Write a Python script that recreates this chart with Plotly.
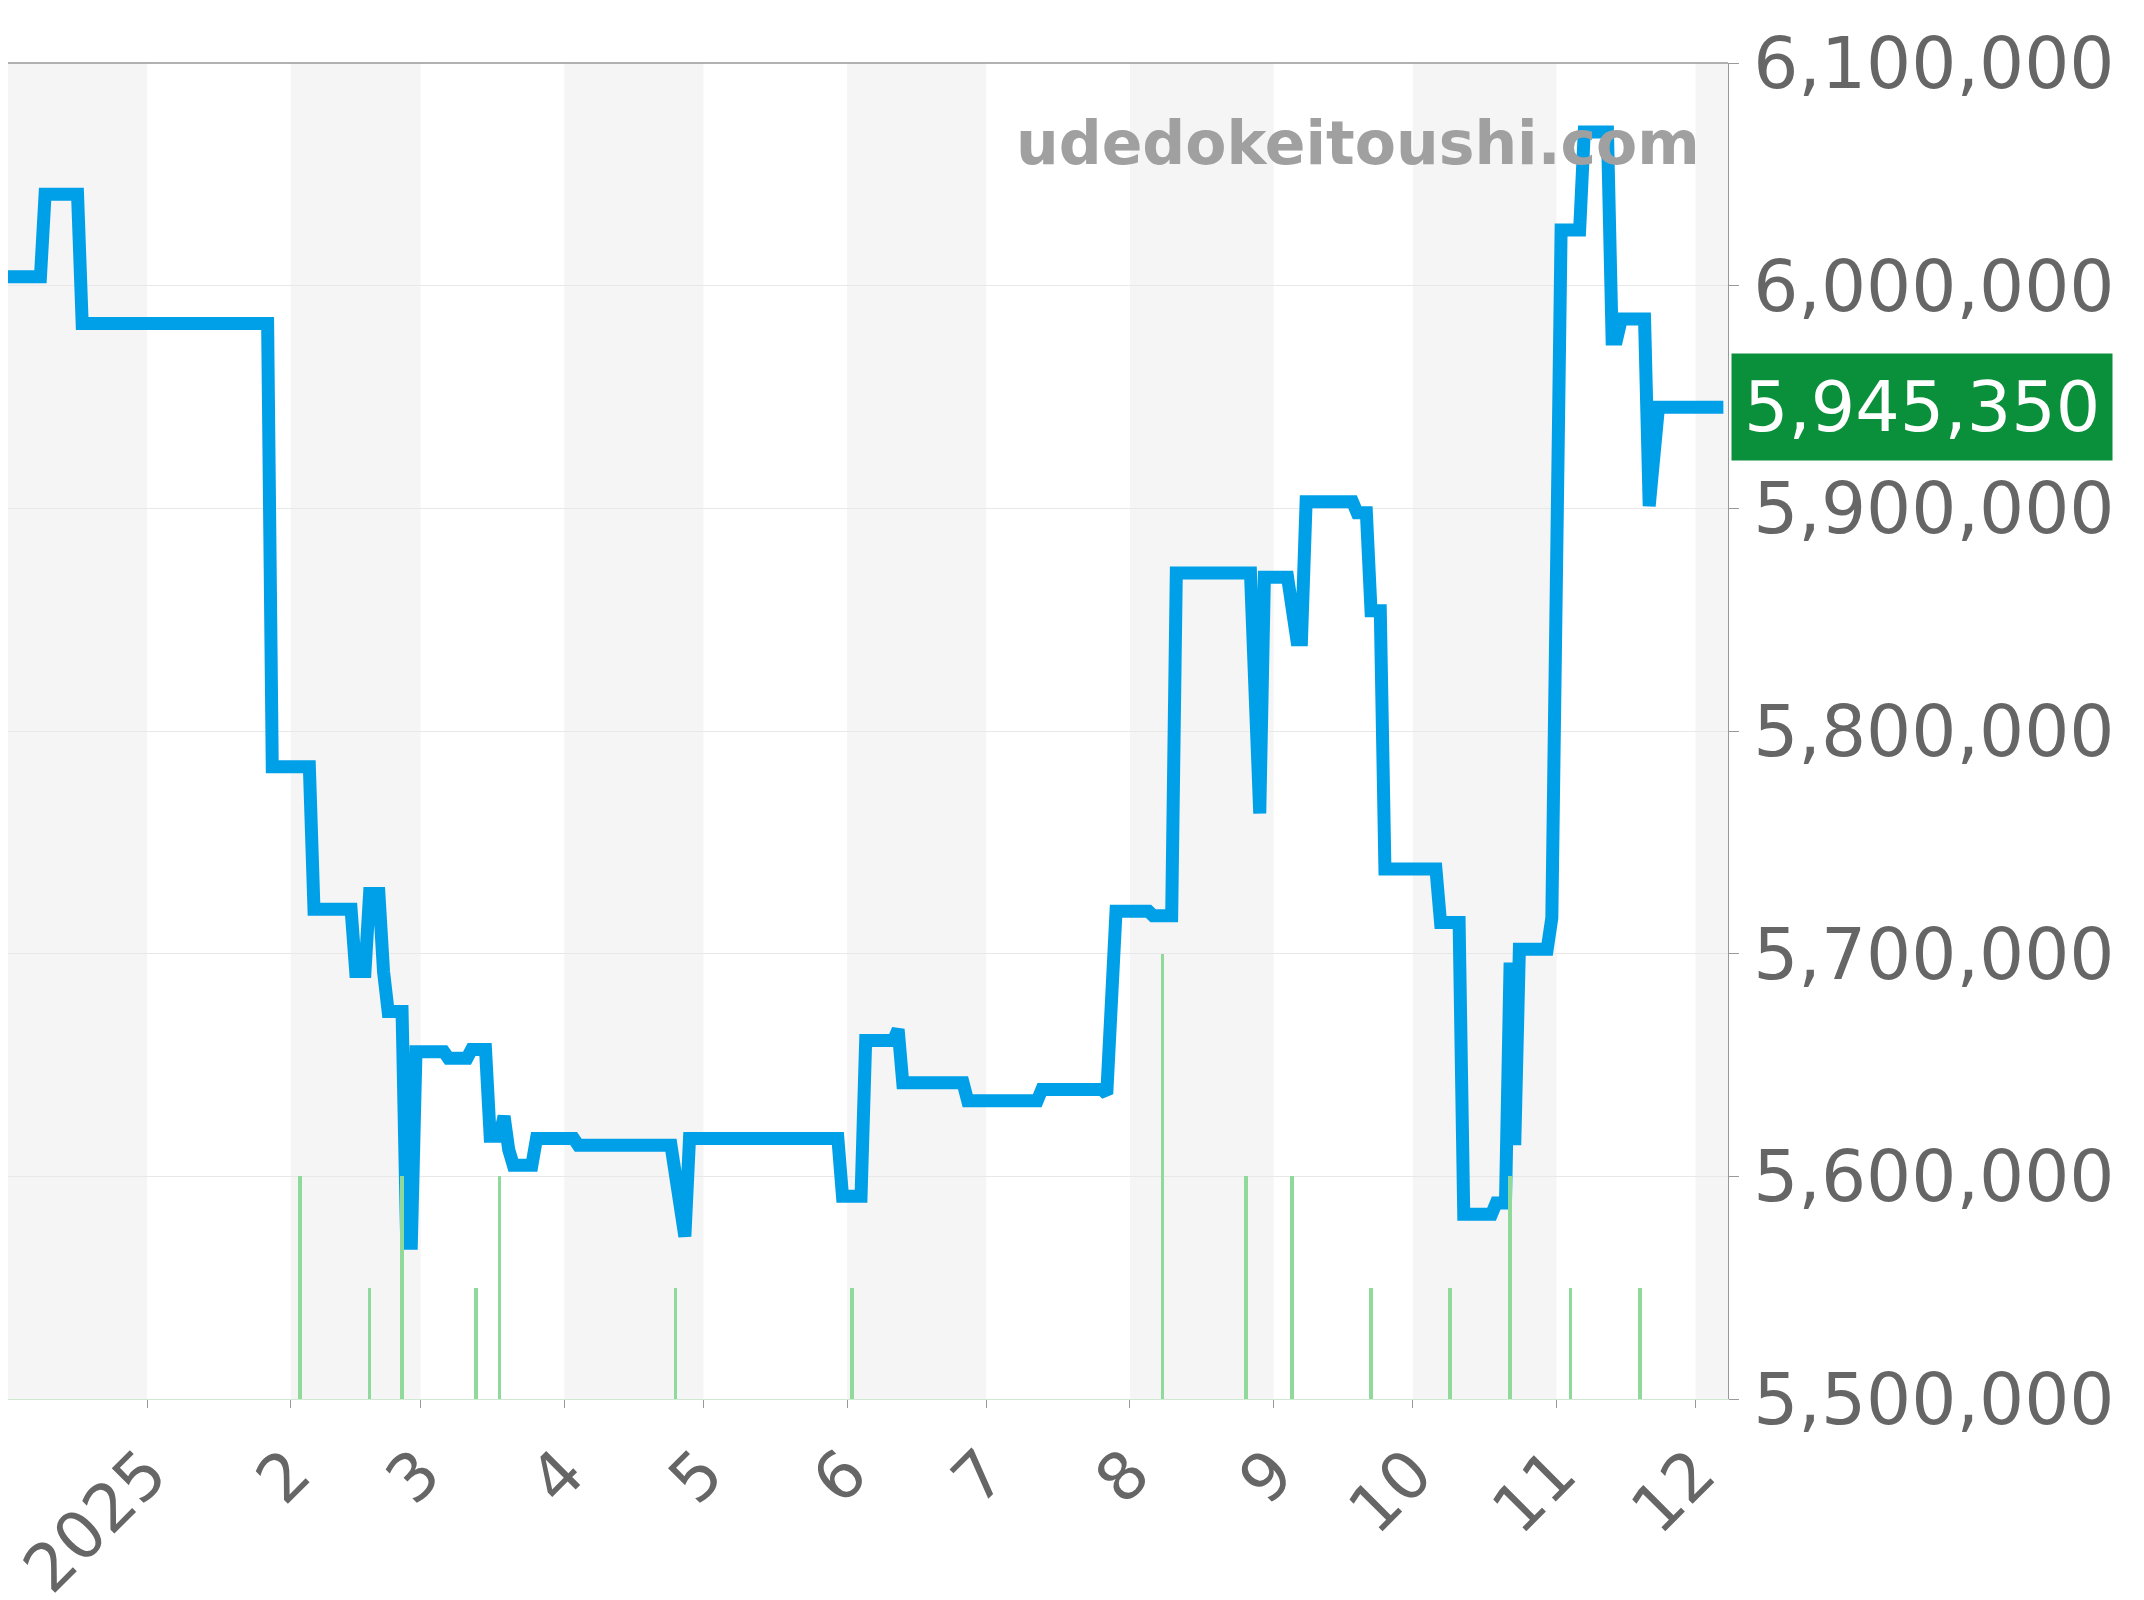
import plotly.graph_objects as go

price_dates = ["2024-12-02","2024-12-09","2024-12-10","2024-12-17","2024-12-18","2025-01-18","2025-01-27","2025-01-28",
"2025-02-05","2025-02-06","2025-02-14","2025-02-15","2025-02-17","2025-02-18","2025-02-20","2025-02-21","2025-02-22",
"2025-02-25","2025-02-26","2025-02-27","2025-02-28","2025-03-06","2025-03-07","2025-03-11","2025-03-12","2025-03-15",
"2025-03-16","2025-03-18","2025-03-19","2025-03-20","2025-03-21","2025-03-25","2025-03-26","2025-04-03","2025-04-04",
"2025-04-24","2025-04-27","2025-04-28","2025-05-30","2025-05-31","2025-06-04","2025-06-05","2025-06-11","2025-06-12",
"2025-06-13","2025-06-26","2025-06-27","2025-07-12","2025-07-13","2025-07-26","2025-07-27","2025-07-29","2025-08-05",
"2025-08-06","2025-08-10","2025-08-11","2025-08-27","2025-08-29","2025-08-30","2025-09-04","2025-09-06","2025-09-07",
"2025-09-08","2025-09-18","2025-09-19","2025-09-21","2025-09-22","2025-09-24","2025-09-25","2025-10-06","2025-10-07",
"2025-10-11","2025-10-12","2025-10-18","2025-10-19","2025-10-21","2025-10-22","2025-10-23","2025-10-24","2025-10-30",
"2025-10-31","2025-11-02","2025-11-06","2025-11-07","2025-11-12","2025-11-13","2025-11-14","2025-11-15","2025-11-20",
"2025-11-21","2025-11-23","2025-12-07"]
prices = [6004000,6004000,6041000,6041000,5983000,5983000,5983000,5784000,
5784000,5720000,5720000,5692000,5692000,5727000,5727000,5692000,5674000,
5674000,5570000,5570000,5656000,5656000,5653000,5653000,5657000,5657000,
5618000,5618000,5627000,5612000,5605000,5605000,5617000,5617000,5614000,
5614000,5573000,5617000,5617000,5591000,5591000,5661000,5661000,5666000,
5642000,5642000,5634000,5634000,5639000,5639000,5637000,5719000,5719000,
5717000,5717000,5871000,5871000,5763000,5869000,5869000,5841000,5841000,
5903000,5903000,5898000,5898000,5854000,5854000,5738000,5738000,5714000,
5714000,5583000,5583000,5588000,5588000,5696000,5614000,5702000,5702000,
5716000,6025000,6025000,6069000,6069000,5976000,5976000,5985000,5985000,
5901000,5945350,5945350]

vol_dates = ["2025-02-03","2025-02-18","2025-02-25","2025-03-13","2025-03-18","2025-04-25","2025-06-02","2025-08-08",
"2025-08-26","2025-09-05","2025-09-22","2025-10-09","2025-10-22","2025-11-04","2025-11-19"]
vol_counts = [2,1,2,1,2,1,1,4,2,2,1,1,2,1,1]

tick_vals = ["2025-01-01","2025-02-01","2025-03-01","2025-04-01","2025-05-01","2025-06-01","2025-07-01",
"2025-08-01","2025-09-01","2025-10-01","2025-11-01","2025-12-01"]
tick_text = ["2025","2","3","4","5","6","7","8","9","10","11","12"]
grey_months = [("2024-12-02","2025-01-01"),("2025-02-01","2025-03-01"),("2025-04-01","2025-05-01"),
("2025-06-01","2025-07-01"),("2025-08-01","2025-09-01"),("2025-10-01","2025-11-01"),("2025-12-01","2025-12-08")]
last_price = 5945350

fig = go.Figure()
fig.add_trace(go.Bar(x=vol_dates, y=vol_counts, yaxis="y2", width=0.8*86400000,
                     marker=dict(color="#8fd99a", line=dict(width=0)), hoverinfo="skip"))
fig.add_trace(go.Scatter(x=price_dates, y=prices, mode="lines", line=dict(color="#00a0e9", width=13), hoverinfo="skip"))

shapes = [dict(type="rect", xref="x", yref="paper", x0=a, x1=b, y0=0, y1=1, fillcolor="#f5f5f5",
               line=dict(width=0), layer="below") for a, b in grey_months]
shapes.append(dict(type="line", xref="paper", yref="paper", x0=0, x1=1, y0=1, y1=1, line=dict(color="#999", width=1.5)))
fig.update_layout(
    width=2144, height=1600, showlegend=False, plot_bgcolor="white", paper_bgcolor="white",
    margin=dict(l=0, r=424, t=55, b=173), shapes=shapes, bargap=0,
    font=dict(family="DejaVu Sans", color="#666666"),
    xaxis=dict(type="date", range=["2024-12-02","2025-12-08"], tickvals=tick_vals, ticktext=tick_text,
               tickangle=-45, tickfont=dict(size=66, color="#666666"), ticks="outside", ticklen=8,
               tickcolor="#999", showgrid=False, showline=True, linecolor="#cfe8d2", zeroline=False),
    yaxis=dict(side="right", range=[5500000, 6100000], tickvals=[5500000,5600000,5700000,5800000,5900000,6000000,6100000],
               tickformat=",", tickfont=dict(size=71, color="#666666"), ticks="outside", ticklen=10,
               tickcolor="#999", showgrid=True, gridcolor="#e8e8e8", showline=True, linecolor="#999",
               zeroline=False),
    yaxis2=dict(overlaying="y", range=[0, 12], visible=False),
    annotations=[
        dict(text="<b>udedokeitoushi.com</b>", xref="paper", yref="paper", x=0.985, y=0.94, xanchor="right",
             yanchor="middle", showarrow=False, font=dict(size=60, color="#a0a0a0")),
        dict(text=f"{last_price:,}", xref="paper", yref="y", x=1.002, y=last_price, xanchor="left", yanchor="middle",
             showarrow=False, font=dict(size=70, color="white"), bgcolor="#0a8f3a", borderpad=12),
    ],
)
fig.write_html("out.html")
